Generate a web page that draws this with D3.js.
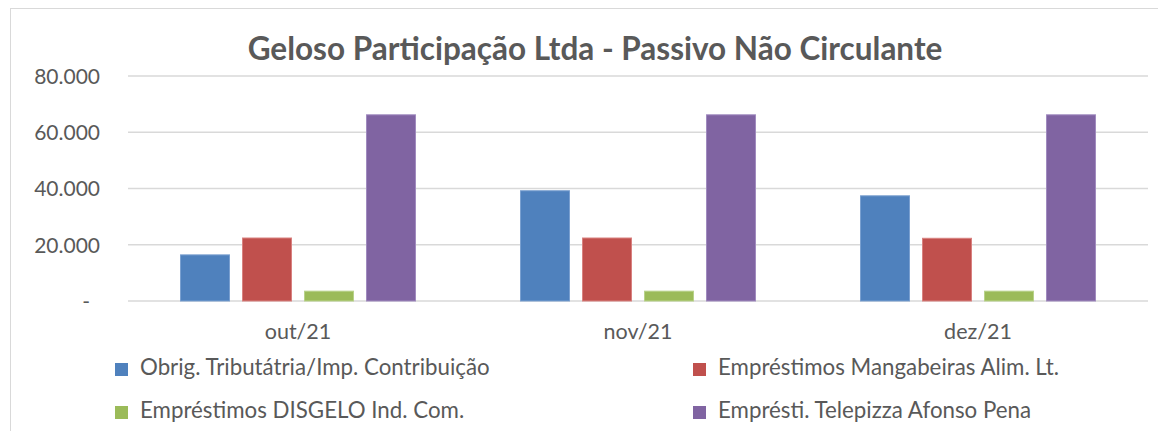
<!DOCTYPE html>
<html>
<head>
<meta charset="utf-8">
<script src="https://cdn.jsdelivr.net/npm/d3@7"></script>
<style>
  body { margin: 0; background: white; }
</style>
</head>
<body>
<script>
// Data
let months = ["out/21", "nov/21", "dez/21"];
let seriesNames = [
  "Obrig. Tributátria/Imp. Contribuição",
  "Empréstimos Mangabeiras Alim. Lt.",
  "Empréstimos DISGELO Ind. Com.",
  "Emprésti. Telepizza Afonso Pena"
];
let obrig = [16400, 39200, 37400];
let mangabeiras = [22400, 22400, 22300];
let disgelo = [3500, 3500, 3500];
let telepizza = [66200, 66200, 66200];
let yTicks = [0, 20000, 40000, 60000, 80000];
let colors = ["#4f81bd", "#c0504d", "#9bbb59", "#8064a2"];
let strokes = ["#7aa0d0", "#d98280", "#b8d28a", "#a08bbf"];

let seriesValues = [obrig, mangabeiras, disgelo, telepizza];

let font = "Lato, 'Open Sans', sans-serif";
let textColor = "#595959";

let svg = d3.select("body")
  .append("svg")
  .attr("width", 1158)
  .attr("height", 431);

// chart frame
svg.append("rect")
  .attr("x", 10.5)
  .attr("y", 8.5)
  .attr("width", 1200)
  .attr("height", 500)
  .style("fill", "white")
  .style("stroke", "#d9d9d9")
  .style("stroke-width", 1);

// title
svg.append("text")
  .attr("x", 595)
  .attr("y", 60)
  .attr("text-anchor", "middle")
  .style("font-family", font)
  .style("font-weight", "bold")
  .style("font-size", "31.5px")
  .style("fill", textColor)
  .text("Geloso Participação Ltda - Passivo Não Circulante");

let x = d3.scaleBand()
  .domain(months)
  .range([128, 1148]);

let xInner = d3.scaleBand()
  .domain(d3.range(seriesNames.length))
  .range([0, x.bandwidth()])
  .paddingInner(0.21)
  .paddingOuter(0.847);

let y = d3.scaleLinear()
  .domain([0, 80000])
  .range([301, 76]);

// gridlines
svg.append("g")
  .selectAll("line")
  .data(yTicks)
  .join("line")
  .attr("x1", 128)
  .attr("x2", 1148)
  .attr("y1", d => y(d))
  .attr("y2", d => y(d))
  .style("stroke", "#d9d9d9")
  .style("stroke-width", 1.5);

// y axis labels
let yAxis = svg.append("g")
  .attr("transform", "translate(100,0)")
  .call(d3.axisLeft(y).tickValues(yTicks).tickSize(0).tickPadding(0)
    .tickFormat(d => d === 0 ? "-" : d3.format(",")(d).replace(/,/g, ".")));
yAxis.select(".domain").remove();
yAxis.selectAll("text")
  .style("font-family", font)
  .style("font-size", "21px")
  .style("fill", textColor)
  .attr("dy", "0.35em")
  .attr("x", d => d === 0 ? -10 : 0);

// bars
let groups = svg.append("g")
  .selectAll("g")
  .data(seriesValues)
  .join("g");

groups.selectAll("rect")
  .data((vals, i) => vals.map((v, j) => ({ v: v, s: i, m: months[j] })))
  .join("rect")
  .attr("x", d => x(d.m) + xInner(d.s))
  .attr("y", d => y(d.v))
  .attr("width", xInner.bandwidth())
  .attr("height", d => y(0) - y(d.v))
  .style("fill", d => colors[d.s])
  .style("stroke", d => strokes[d.s])
  .style("stroke-width", 1);

// x axis labels
let xAxis = svg.append("g")
  .attr("transform", "translate(0,301)")
  .call(d3.axisBottom(x).tickSize(0).tickPadding(0));
xAxis.select(".domain").remove();
xAxis.selectAll("text")
  .attr("dy", null)
  .attr("y", 38)
  .style("font-family", font)
  .style("font-size", "21.5px")
  .style("fill", textColor);

// legend
let legendPos = [[115, 375], [693, 375], [115, 418], [693, 418]];
let legend = svg.append("g")
  .selectAll("g")
  .data(seriesNames)
  .join("g")
  .attr("transform", (d, i) => `translate(${legendPos[i][0]},${legendPos[i][1]})`);

legend.append("rect")
  .attr("x", 0)
  .attr("y", -12)
  .attr("width", 13)
  .attr("height", 13)
  .style("fill", (d, i) => colors[i]);

legend.append("text")
  .attr("x", 25)
  .attr("y", 0)
  .style("font-family", font)
  .style("font-size", "22.3px")
  .style("fill", textColor)
  .text(d => d);
</script>
</body>
</html>
